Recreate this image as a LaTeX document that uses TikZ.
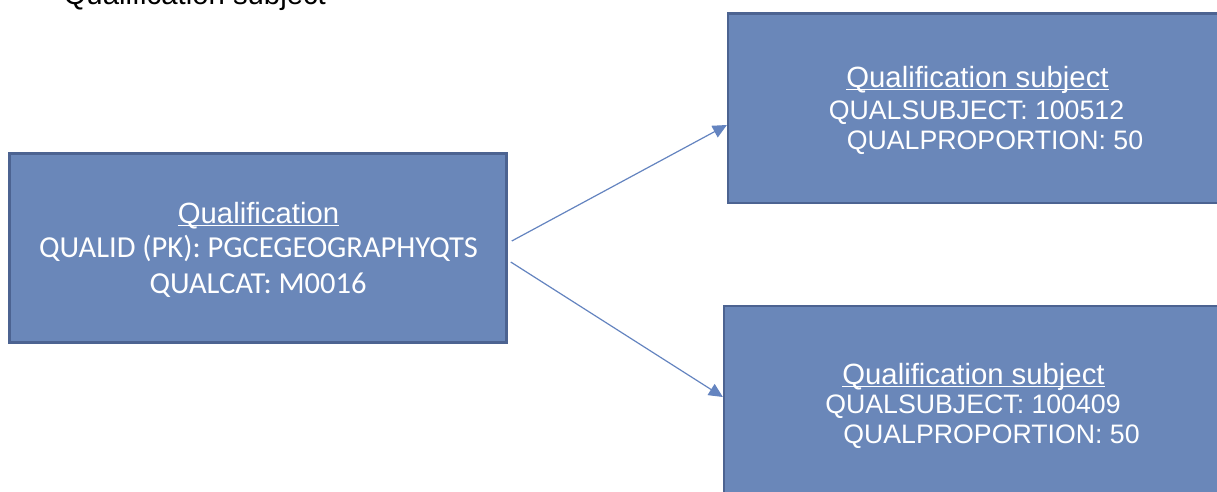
\documentclass[tikz,border=0pt]{standalone}
\usepackage{fontspec}
\setmainfont{Liberation Sans}
\newfontfamily\calib{Carlito}
\usetikzlibrary{arrows.meta}
\definecolor{boxfill}{RGB}{106,135,185}
\definecolor{boxline}{RGB}{76,99,145}
\definecolor{arrcol}{RGB}{100,132,192}
\newcommand\myul[1]{\setbox0\hbox{#1}\rlap{\rule[-3.2pt]{\wd0}{1.7pt}}\box0}
\tikzset{
  entity/.style={draw=boxline, fill=boxfill, line width=2.5pt, rectangle, inner sep=0pt},
  title/.style={anchor=base, inner sep=0pt, text=white, font=\fontsize{29.3pt}{30pt}\selectfont},
  body/.style={anchor=base, inner sep=0pt, text=white, font=\fontsize{26.7pt}{28pt}\selectfont},
  cbody/.style={anchor=base, inner sep=0pt, text=white, font=\calib\fontsize{30.5pt}{31pt}\selectfont},
  arr/.style={draw=arrcol, line width=1.2pt, -{Triangle[length=14pt,width=13pt]}}
}
\begin{document}
\begin{tikzpicture}[x=1pt,y=-1pt]
\useasboundingbox (0,0) rectangle (1217,491);
\fill[white] (0,0) rectangle (1217,491);
% top-left stray caption
\node[anchor=base west, inner sep=0pt, font=\fontsize{29.3pt}{30pt}\selectfont] (stray) at (63.5,4.5) {Qualification subject};
% boxes
\node[entity, minimum width=497pt, minimum height=189pt] (qual) at (258,248) {};
\node[entity, minimum width=511.75pt, minimum height=189.5pt] (subjA) at (984,108) {};
\node[entity, minimum width=515.75pt, minimum height=213.75pt] (subjB) at (982,413) {};
% left box text
\node[title] (qt) at (258.5,223) {\myul{Qualification}};
\node[cbody] (qid) at (258.5,257.5) {QUALID (PK): PGCEGEOGRAPHYQTS};
\node[cbody] (qcat) at (258,293) {QUALCAT: M0016};
% top right text
\node[title] (at) at (977.5,87) {\myul{Qualification subject}};
\node[body] (as) at (976.5,119) {QUALSUBJECT: 100512};
\node[body] (ap) at (995,149) {QUALPROPORTION: 50};
% bottom right text
\node[title] (bt) at (973.5,384) {\myul{Qualification subject}};
\node[body] (bs) at (973,413.5) {QUALSUBJECT: 100409};
\node[body] (bp) at (991.5,443.5) {QUALPROPORTION: 50};
% arrows
\draw[arr] ([xshift=4pt,yshift=7pt]qual.east) -- ([yshift=-17pt]subjA.west);
\draw[arr] ([xshift=3pt,yshift=-14pt]qual.east) -- ([yshift=16pt]subjB.west);
\end{tikzpicture}
\end{document}
